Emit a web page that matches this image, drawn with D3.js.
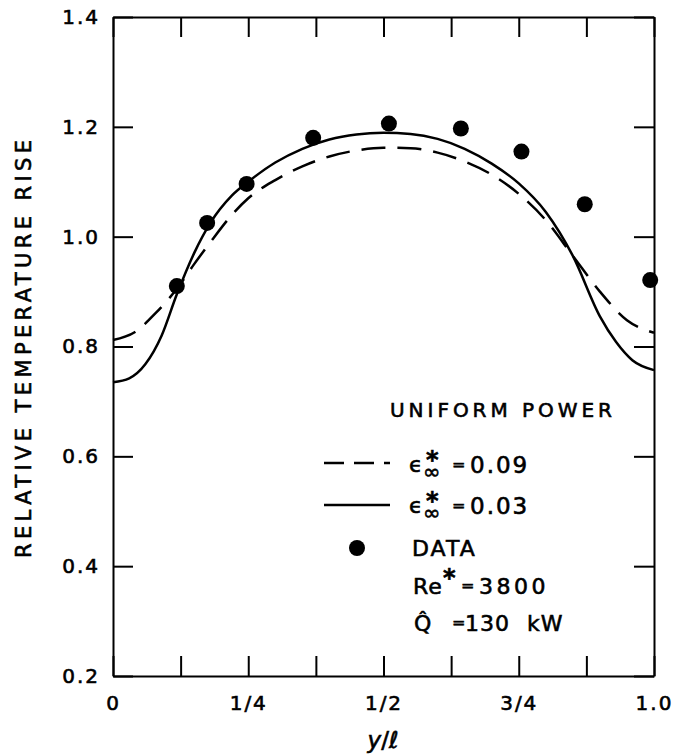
<!DOCTYPE html>
<html>
<head>
<meta charset="utf-8">
<script src="https://cdn.jsdelivr.net/npm/d3@7"></script>
<style>
  body { margin: 0; background: #fff; }
  text { font-family: "DejaVu Sans", sans-serif; fill: #000; stroke: #000; stroke-width: 0.6px; }
</style>
</head>
<body>
<div id="chart"></div>
<script>
// chart values
const dataX = [0.118, 0.174, 0.247, 0.370, 0.510, 0.643, 0.755, 0.872, 0.993];
const dataY = [0.910, 1.025, 1.096, 1.180, 1.206, 1.197, 1.155, 1.059, 0.921];

// epsilon* = 0.03 (solid)
const solidX = [0, 0.03, 0.06, 0.09, 0.118, 0.15, 0.18, 0.22, 0.25, 0.3, 0.35, 0.4, 0.45, 0.5, 0.55, 0.6, 0.65, 0.7, 0.75, 0.8, 0.85, 0.9, 0.93, 0.96, 1.0];
const solidY = [0.735, 0.742, 0.768, 0.82, 0.895, 0.97, 1.025, 1.075, 1.1, 1.135, 1.16, 1.177, 1.186, 1.189, 1.187, 1.178, 1.16, 1.133, 1.097, 1.045, 0.965, 0.855, 0.808, 0.775, 0.757];

// epsilon* = 0.09 (dashed)
const dashX = [0, 0.04, 0.08, 0.118, 0.15, 0.18, 0.22, 0.25, 0.3, 0.35, 0.4, 0.45, 0.5, 0.55, 0.6, 0.65, 0.7, 0.75, 0.8, 0.85, 0.9, 0.95, 1.0];
const dashY = [0.812, 0.826, 0.862, 0.905, 0.95, 0.99, 1.04, 1.07, 1.103, 1.128, 1.146, 1.157, 1.162, 1.161, 1.153, 1.137, 1.113, 1.078, 1.03, 0.965, 0.9, 0.848, 0.825];

const xTickVals = [0, 0.25, 0.5, 0.75, 1.0];
const xTickLabels = ["0", "1/4", "1/2", "3/4", "1.0"];
const xMinorTicks = [0, 0.125, 0.25, 0.375, 0.5, 0.625, 0.75, 0.875, 1.0];
const yTickVals = [0.2, 0.4, 0.6, 0.8, 1.0, 1.2, 1.4];

const W = 680, H = 756;
const plotL = 113, plotR = 654, plotT = 17, plotB = 676;

const svg = d3.select("#chart").append("svg")
  .attr("width", W)
  .attr("height", H);

const x = d3.scaleLinear().domain([0, 1]).range([plotL, plotR]);
const y = d3.scaleLinear().domain([0.2, 1.4]).range([plotB, plotT]);

// frame with inward ticks on all four sides
function styleAxis(g) {
  g.selectAll("path, line").attr("stroke", "#000").attr("stroke-width", 2);
}

svg.append("g")
  .attr("transform", `translate(0,${plotB})`)
  .call(d3.axisBottom(x).tickValues(xMinorTicks).tickSize(-20).tickSizeOuter(0).tickFormat(""))
  .call(styleAxis);

svg.append("g")
  .attr("transform", `translate(0,${plotT})`)
  .call(d3.axisTop(x).tickValues(xMinorTicks).tickSize(-20).tickSizeOuter(0).tickFormat(""))
  .call(styleAxis);

svg.append("g")
  .attr("transform", `translate(${plotL},0)`)
  .call(d3.axisLeft(y).tickValues(yTickVals).tickSize(-20).tickSizeOuter(0).tickFormat(""))
  .call(styleAxis);

svg.append("g")
  .attr("transform", `translate(${plotR},0)`)
  .call(d3.axisRight(y).tickValues(yTickVals).tickSize(-20).tickSizeOuter(0).tickFormat(""))
  .call(styleAxis);

// tick labels
const xLab = svg.append("g")
  .attr("transform", `translate(0,${plotB})`)
  .call(d3.axisBottom(x).tickValues(xTickVals).tickSize(0).tickPadding(20)
    .tickFormat((d, i) => xTickLabels[i]));
xLab.select(".domain").remove();
xLab.selectAll("text")
  .attr("font-size", 20)
  .attr("letter-spacing", 2)
  .attr("font-family", "DejaVu Sans");

const yLab = svg.append("g")
  .attr("transform", `translate(${plotL},0)`)
  .call(d3.axisLeft(y).tickValues(yTickVals).tickSize(0).tickPadding(13)
    .tickFormat(d3.format(".1f")));
yLab.select(".domain").remove();
yLab.selectAll("text")
  .attr("font-size", 20)
  .attr("letter-spacing", 2)
  .attr("font-family", "DejaVu Sans");

// axis titles
svg.append("text")
  .attr("transform", "translate(31,349) rotate(-90)")
  .attr("text-anchor", "middle")
  .attr("font-size", 21)
  .attr("textLength", 418)
  .attr("lengthAdjust", "spacing")
  .text("RELATIVE TEMPERATURE RISE");

const xt = svg.append("text")
  .attr("x", 383)
  .attr("y", 748)
  .attr("text-anchor", "middle")
  .attr("font-size", 23);
xt.append("tspan").attr("font-style", "italic").text("y");
xt.append("tspan").text("/");
xt.append("tspan").attr("font-style", "italic").text("ℓ");

// curves
const line = d3.line()
  .x(d => x(d[0]))
  .y(d => y(d[1]))
  .curve(d3.curveMonotoneX);

svg.append("path")
  .datum(solidX.map((v, i) => [v, solidY[i]]))
  .attr("d", line)
  .attr("fill", "none")
  .attr("stroke", "#000")
  .attr("stroke-width", 2.5);

svg.append("path")
  .datum(dashX.map((v, i) => [v, dashY[i]]))
  .attr("d", line)
  .attr("fill", "none")
  .attr("stroke", "#000")
  .attr("stroke-width", 2.5)
  .attr("stroke-dasharray", "24,12");

// data points
svg.selectAll("circle.pt")
  .data(dataX.map((v, i) => [v, dataY[i]]))
  .enter().append("circle")
  .attr("class", "pt")
  .attr("cx", d => x(d[0]))
  .attr("cy", d => y(d[1]))
  .attr("r", 8)
  .attr("fill", "#000");

// legend / annotations
const leg = svg.append("g");

leg.append("text")
  .attr("x", 390).attr("y", 417)
  .attr("font-size", 20)
  .attr("textLength", 222)
  .attr("lengthAdjust", "spacing")
  .text("UNIFORM POWER");

// epsilon with stacked subscript infinity and superscript star, one text element
function epsLabel(yBase, value) {
  const t = leg.append("text").attr("x", 409).attr("y", yBase - 1).attr("font-size", 22);
  t.append("tspan").text("ϵ");
  t.append("tspan").attr("x", 423).attr("dy", 7).attr("font-size", 21).text("∞");
  t.append("tspan").attr("x", 426).attr("dy", -11).attr("font-size", 24)
    .attr("font-weight", "bold").text("*");
  t.append("tspan").attr("x", 452).attr("dy", 2).attr("font-size", 16).text("=");
  t.append("tspan").attr("x", 470).attr("dy", 3).attr("font-size", 23)
    .attr("letter-spacing", 2).text(value);
}

leg.append("line")
  .attr("x1", 324).attr("x2", 390).attr("y1", 463).attr("y2", 463)
  .attr("stroke", "#000").attr("stroke-width", 2.5)
  .attr("stroke-dasharray", "20,10");
epsLabel(473, "0.09");

leg.append("line")
  .attr("x1", 324).attr("x2", 390).attr("y1", 505).attr("y2", 505)
  .attr("stroke", "#000").attr("stroke-width", 2.5);
epsLabel(514, "0.03");

leg.append("circle").attr("cx", 357).attr("cy", 548).attr("r", 8).attr("fill", "#000");
leg.append("text").attr("x", 412).attr("y", 556).attr("font-size", 22)
  .attr("letter-spacing", 2).text("DATA");

const re = leg.append("text").attr("x", 413).attr("y", 594).attr("font-size", 22);
re.append("tspan").attr("letter-spacing", 1).text("Re");
re.append("tspan").attr("x", 443).attr("dy", -8).attr("font-size", 24)
  .attr("font-weight", "bold").text("*");
re.append("tspan").attr("x", 461).attr("dy", 5).attr("font-size", 16).text("=");
re.append("tspan").attr("x", 479).attr("dy", 3).attr("letter-spacing", 3.5).text("3800");

// Q with circumflex as one combined glyph
const qt = leg.append("text").attr("x", 414).attr("y", 631).attr("font-size", 22);
qt.append("tspan").text("Q\u0302");
qt.append("tspan").attr("x", 452).attr("dy", -3).attr("font-size", 16).text("=");
qt.append("tspan").attr("x", 465).attr("dy", 3).attr("letter-spacing", 1).text("130");
qt.append("tspan").attr("x", 527).attr("letter-spacing", 1).text("kW");
</script>
</body>
</html>
